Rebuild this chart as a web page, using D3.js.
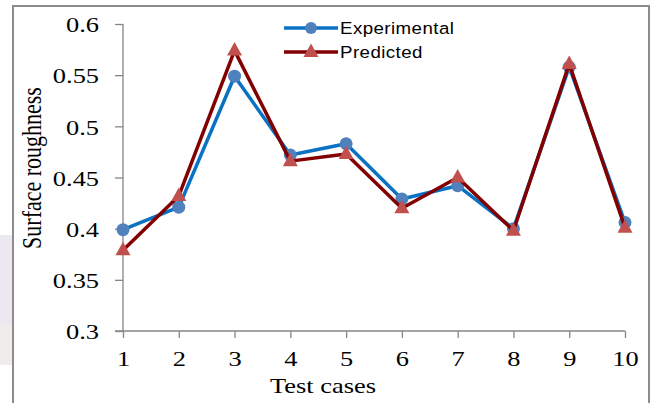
<!DOCTYPE html>
<html>
<head>
<meta charset="utf-8">
<script src="https://cdn.jsdelivr.net/npm/d3@7"></script>
<style>
html,body{margin:0;padding:0;background:#fff;}
svg{display:block;}
</style>
</head>
<body>
<svg id="chart" width="654" height="403"></svg>
<script>
const testCases = [1,2,3,4,5,6,7,8,9,10];
const experimental = [0.399,0.421,0.549,0.472,0.483,0.429,0.442,0.400,0.558,0.406];
const predicted = [0.379,0.432,0.574,0.466,0.473,0.420,0.450,0.398,0.561,0.401];
const yTicks = [0.3,0.35,0.4,0.45,0.5,0.55,0.6];
const seriesNames = ["Experimental","Predicted"];

const svg = d3.select("#chart");
const SX = 1.2; // horizontal stretch of the original figure's text

// faint background patches outside frame
svg.append("rect").attr("x",0).attr("y",235).attr("width",12).attr("height",90).attr("fill","#ebe8f2");
svg.append("rect").attr("x",0).attr("y",325).attr("width",12).attr("height",40).attr("fill","#f1ecec");

// outer frame
svg.append("rect").attr("x",13).attr("y",6).attr("width",636).attr("height",410)
  .attr("fill","#fff").attr("stroke","#8c8c8c").attr("stroke-width",2);

const x = d3.scaleLinear().domain([1,10]).range([123,625]);
const y = d3.scaleLinear().domain([0.3,0.6]).range([331,24]);

const axisColor = "#868686";
const serif = "'Liberation Serif','Times New Roman',serif";

// y axis
const yAxis = svg.append("g").attr("transform","translate(123,0)")
  .call(d3.axisLeft(y).tickValues(yTicks).tickSize(8).tickPadding(16)
    .tickFormat(d => d3.format("")(+d.toFixed(2))));
yAxis.select(".domain").attr("stroke",axisColor).attr("stroke-width",1.3).attr("d","M0,24V331");
yAxis.selectAll(".tick line").attr("stroke",axisColor).attr("stroke-width",1.3);
yAxis.selectAll(".tick text").attr("font-family",serif).attr("font-size",22).attr("fill","#000")
  .attr("dy","0.35em").attr("x",-24/SX).attr("transform",`scale(${SX},1)`);

// x axis
const xAxis = svg.append("g").attr("transform","translate(0,331)")
  .call(d3.axisBottom(x).tickValues(testCases).tickSize(7).tickPadding(12).tickFormat(d3.format("d")));
xAxis.select(".domain").attr("stroke",axisColor).attr("stroke-width",1.3).attr("d","M115,0H625");
xAxis.selectAll(".tick line").attr("stroke",axisColor).attr("stroke-width",1.3);
xAxis.selectAll(".tick text").attr("font-family",serif).attr("font-size",22).attr("fill","#000")
  .attr("transform",`scale(${SX},1)`);

// axis titles
svg.append("text").attr("transform",`translate(323,393) scale(${SX},1)`).attr("text-anchor","middle")
  .attr("font-family",serif).attr("font-size",22).attr("fill","#000").text("Test cases");
svg.append("text").attr("transform",`translate(41,168) scale(${SX},1) rotate(-90)`).attr("text-anchor","middle")
  .attr("font-family",serif).attr("font-size",22).attr("fill","#000").text("Surface roughness");

const line = d3.line().x((d,i)=>x(testCases[i])).y(d=>y(d));

const triPath = "M0,-8.5L7.5,5L-7.5,5Z";

// experimental
svg.append("path").datum(experimental).attr("d",line).attr("fill","none")
  .attr("stroke","#0A72C2").attr("stroke-width",3.5).attr("stroke-linejoin","round");
svg.append("g").selectAll("circle").data(experimental).join("circle")
  .attr("cx",(d,i)=>x(testCases[i])).attr("cy",d=>y(d)).attr("r",6.5).attr("fill","#4F81BD");

// predicted
svg.append("path").datum(predicted).attr("d",line).attr("fill","none")
  .attr("stroke","#820000").attr("stroke-width",3.5).attr("stroke-linejoin","round");
svg.append("g").selectAll("path").data(predicted).join("path")
  .attr("d",triPath).attr("transform",(d,i)=>`translate(${x(testCases[i])},${y(d)})`).attr("fill","#C0504D");

// legend
const leg = svg.append("g");
const legY = [28,52];
const legColors = [["#0A72C2","#4F81BD"],["#820000","#C0504D"]];
seriesNames.forEach((name,i)=>{
  leg.append("line").attr("x1",284).attr("x2",338).attr("y1",legY[i]).attr("y2",legY[i])
    .attr("stroke",legColors[i][0]).attr("stroke-width",3.5);
  if(i===0){
    leg.append("circle").attr("cx",311).attr("cy",legY[i]).attr("r",6).attr("fill",legColors[i][1]);
  } else {
    leg.append("path").attr("d",triPath).attr("transform",`translate(311,${legY[i]})`).attr("fill",legColors[i][1]);
  }
  leg.append("text").attr("transform",`translate(340,${legY[i]}) scale(1.1,1)`).attr("dy","0.35em")
    .attr("font-family","'Liberation Sans',Arial,sans-serif").attr("font-size",17)
    .attr("letter-spacing",0.4).attr("fill","#000").text(name);
});
</script>
</body>
</html>
